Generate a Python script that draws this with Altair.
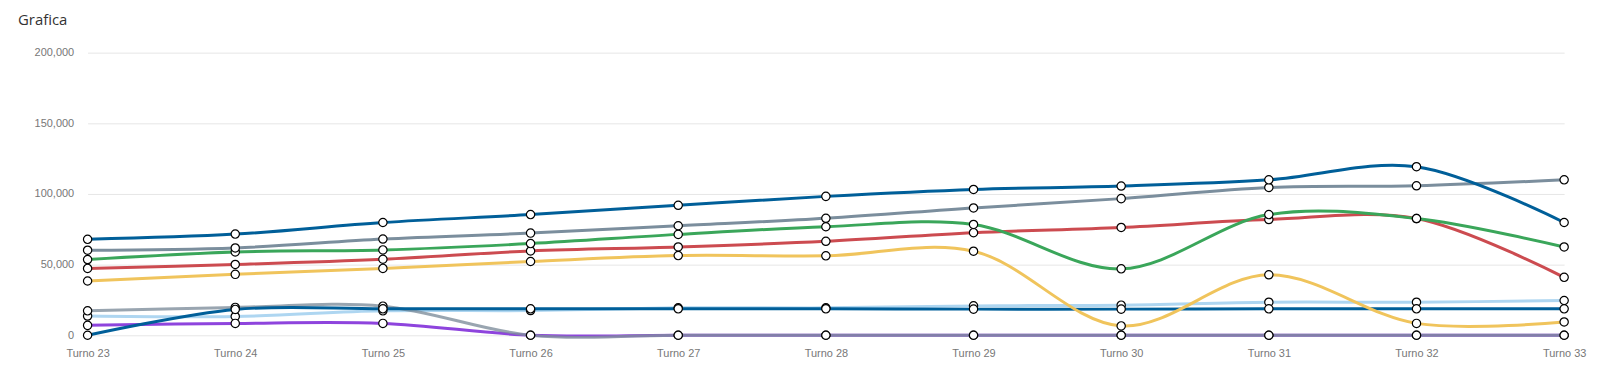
import altair as alt
import pandas as pd

turnos = ["Turno 23", "Turno 24", "Turno 25", "Turno 26", "Turno 27", "Turno 28",
          "Turno 29", "Turno 30", "Turno 31", "Turno 32", "Turno 33"]

# drawing order: first = bottom
serie_celeste = [13600, 13300, 17300, 17500, 19400, 19400, 20800, 21300, 23400, 23400, 24600]
serie_morado = [7000, 8400, 8400, 0, 0, 0, 0, 0, 0, 0, 0]
serie_gris2 = [17300, 19700, 20600, 0, 0, 0, 0, 0, 0, 0, 0]
serie_azul2 = [0, 18300, 18700, 18700, 18700, 18700, 18500, 18500, 18700, 18700, 18700]
serie_rojo = [47300, 50100, 53800, 59700, 62500, 66500, 72600, 76300, 81900, 82600, 41000]
serie_verde = [53600, 59000, 60400, 64900, 71400, 76800, 78400, 47000, 85400, 82600, 62500]
serie_amarillo = [38400, 43100, 47300, 52200, 56400, 56200, 59500, 6600, 42800, 8400, 9400]
serie_gris = [60200, 61800, 68100, 72300, 77500, 82800, 90100, 96700, 104600, 105800, 110000]
serie_azul = [67900, 71600, 79800, 85400, 92000, 98300, 103200, 105600, 110000, 119300, 79800]

nombres = ["Serie 1", "Serie 2", "Serie 3", "Serie 4", "Serie 5",
           "Serie 6", "Serie 7", "Serie 8", "Serie 9"]
valores = [serie_celeste, serie_morado, serie_gris2, serie_azul2, serie_rojo,
           serie_verde, serie_amarillo, serie_gris, serie_azul]
colores = ["#aed6f1", "#8e44dd", "#7f8e9c", "#005f99", "#cc4b50",
           "#3aa65a", "#f0c45c", "#7b8e9d", "#005f99"]

rows = []
for i, (n, vals) in enumerate(zip(nombres, valores)):
    for j, (t, v) in enumerate(zip(turnos, vals)):
        rows.append({"serie": n, "orden": i, "turno": t, "valor": v})
df = pd.DataFrame(rows)

x = alt.X("turno:N", sort=turnos, title=None,
          scale=alt.Scale(type="point", padding=0),
          axis=alt.Axis(labelAngle=0, ticks=False, domain=False, grid=False,
                        labelPadding=12, labelFontSize=11, labelColor="#777777",
                        labelFont="Liberation Sans"))
y = alt.Y("valor:Q", title=None,
          scale=alt.Scale(domain=[0, 200000], nice=False),
          axis=alt.Axis(values=[0, 50000, 100000, 150000, 200000], format=",.0f",
                        ticks=False, domain=False, grid=True, gridColor="#e6e6e6",
                        gridWidth=1, labelPadding=14, labelFontSize=11,
                        labelColor="#777777", labelFont="Liberation Sans"))
color = alt.Color("serie:N", scale=alt.Scale(domain=nombres, range=colores), legend=None)

lineas = alt.Chart(df).mark_line(interpolate="catmull-rom", strokeWidth=3).encode(
    x=x, y=y, color=color, detail="serie:N",
    strokeOpacity=alt.condition(alt.datum.serie == "Serie 3", alt.value(0.8), alt.value(1)),
)
puntos = alt.Chart(df).mark_point(filled=True, fill="white", stroke="black",
                                  strokeWidth=1.2, size=70, opacity=1).encode(
    x=x, y=y
)

chart = alt.layer(lineas, puntos).properties(
    width=1484, height=284,
    autosize=alt.AutoSizeParams(type="none"),
    padding={"left": 80, "top": 44, "right": 28, "bottom": 32},
    title=alt.TitleParams("Grafica", anchor="start", frame="group", dx=-70,
                          offset=19, fontSize=15, fontWeight="normal",
                          font="Open Sans", color="#333333"),
).configure_view(stroke=None)

chart.save("out.html", embed_options={"renderer": "svg", "actions": False})
